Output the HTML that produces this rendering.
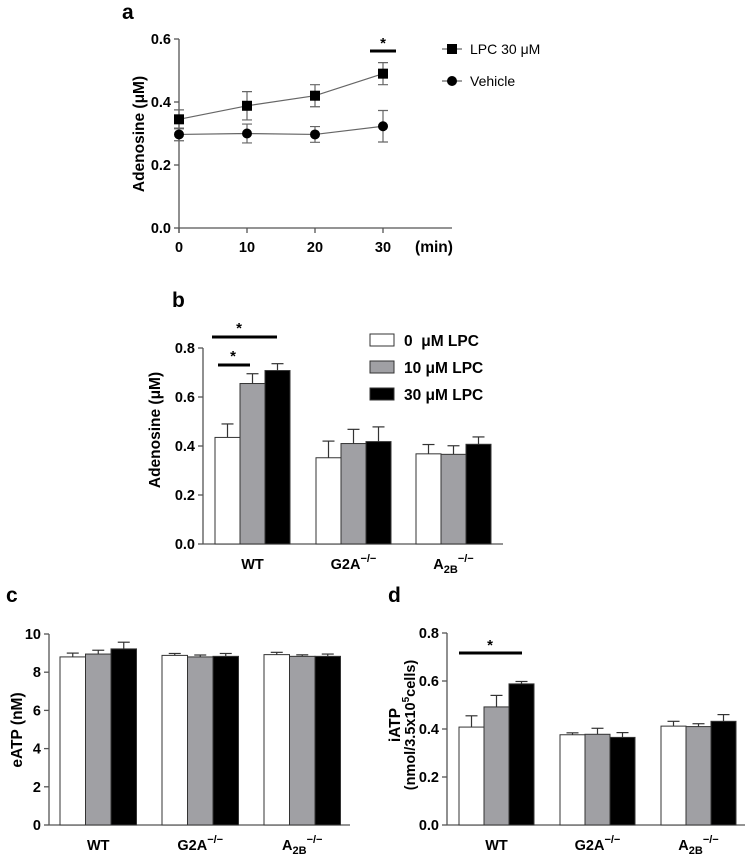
<!DOCTYPE html>
<html><head><meta charset="utf-8"><style>
body{margin:0;background:#fff;width:749px;height:854px;overflow:hidden}
svg{font-family:"Liberation Sans",Arial,sans-serif}
text{font-weight:bold;fill:#000}
</style></head><body>
<svg id="s" width="749" height="854" xmlns="http://www.w3.org/2000/svg"></svg>
<script>
// Panel a data
const aTimes=[0,10,20,30];
const aLpc=[0.345,0.388,0.42,0.49];
const aLpcErr=[0.03,0.045,0.035,0.035];
const aVeh=[0.297,0.300,0.297,0.323];
const aVehErr=[0.02,0.03,0.025,0.05];
const aYTicks=[0,0.2,0.4,0.6];
const aXTicks=[0,10,20,30];
// Panel b data
const groups=["WT","G2A","A2B"];
const bTicks=[0,0.2,0.4,0.6,0.8];
const b0=[0.435,0.352,0.368],b0e=[0.055,0.068,0.038];
const b10=[0.655,0.41,0.366],b10e=[0.04,0.058,0.035];
const b30=[0.708,0.418,0.407],b30e=[0.028,0.06,0.03];
// Panel c data
const cTicks=[0,2,4,6,8,10];
const c0=[8.8,8.88,8.92],c0e=[0.2,0.1,0.12];
const c10=[8.95,8.8,8.83],c10e=[0.2,0.1,0.08];
const c30=[9.22,8.83,8.83],c30e=[0.35,0.15,0.12];
// Panel d data
const dTicks=[0,0.2,0.4,0.6,0.8];
const d0=[0.408,0.376,0.412],d0e=[0.047,0.008,0.02];
const d10=[0.492,0.378,0.41],d10e=[0.048,0.025,0.012];
const d30=[0.588,0.365,0.432],d30e=[0.01,0.02,0.028];

const S=document.getElementById('s');const NS="http://www.w3.org/2000/svg";
function el(t,a,p){const e=document.createElementNS(NS,t);for(const k in a)e.setAttribute(k,a[k]);(p||S).appendChild(e);return e;}
function tx(x,y,s,size,anchor,p){const e=el('text',{x:x,y:y,'font-size':size,'text-anchor':anchor||'middle'},p);e.innerHTML=s;return e;}
const AX='#555';

// ---- Panel a
{
const g=el('g',{});


const x0=179,x30=383,yb=228,yt=39;
const X=v=>x0+(x30-x0)*v/30, Y=v=>yb-(yb-yt)*v/0.6;
tx(122,19,'a',21,'start',g);
el('line',{x1:x0,y1:yt,x2:x0,y2:yb+5,stroke:AX,'stroke-width':1.3},g);
el('line',{x1:x0,y1:yb,x2:452,y2:yb,stroke:AX,'stroke-width':1.3},g);
aYTicks.forEach(v=>{el('line',{x1:x0-5,y1:Y(v),x2:x0,y2:Y(v),stroke:AX,'stroke-width':1.3},g);tx(x0-8,Y(v)+5,v.toFixed(1),14.5,'end',g);});
aXTicks.forEach(v=>{el('line',{x1:X(v),y1:yb,x2:X(v),y2:yb+5,stroke:AX,'stroke-width':1.3},g);tx(X(v),yb+24,v,14.5,'middle',g);});
tx(434,yb+24,'(min)',15.5,'middle',g);
const yl=tx(0,0,'Adenosine (μM)',15.5,'middle',g);yl.setAttribute('transform','translate(144,134) rotate(-90)');

function series(vals,errs,sq,name){
  const pts=aTimes.map((t,i)=>X(t)+','+Y(vals[i])).join(' ');
  el('polyline',{points:pts,fill:'none',stroke:'#666','stroke-width':1.2},g);
  aTimes.forEach((t,i)=>{const x=X(t);
    el('path',{d:`M${x},${Y(vals[i]-errs[i])}V${Y(vals[i]+errs[i])}M${x-5},${Y(vals[i]+errs[i])}h10M${x-5},${Y(vals[i]-errs[i])}h10`,stroke:'#666','stroke-width':1.2},g);
    const m=sq?el('rect',{x:x-5,y:Y(vals[i])-5,width:10,height:10,fill:'#000'},g):el('circle',{cx:x,cy:Y(vals[i]),r:5,fill:'#000'},g);
    
    
  });
}
series(aLpc,aLpcErr,true,'lpc');series(aVeh,aVehErr,false,'vehicle');
el('line',{x1:370,y1:51,x2:396,y2:51,stroke:'#000','stroke-width':3},g);tx(383,48,'*',15,'middle',g);
el('line',{x1:442,y1:49,x2:462,y2:49,stroke:'#666','stroke-width':1.2},g);el('rect',{x:447,y:44,width:10,height:10},g);
tx(470,54,'LPC 30 μM',14,'start',g).style.fontWeight='normal';
el('line',{x1:442,y1:81,x2:462,y2:81,stroke:'#666','stroke-width':1.2},g);el('circle',{cx:452,cy:81,r:5},g);
tx(470,86,'Vehicle',14,'start',g).style.fontWeight='normal';
}

// ---- Bar panels
function barPanel(o){
  const g=el('g',{});
  
  
  const Y=v=>o.yb-(o.yb-o.yt)*v/o.max;
  el('line',{x1:o.ax,y1:Y(o.max),x2:o.ax,y2:o.yb,stroke:AX,'stroke-width':1.3},g);
  el('line',{x1:o.ax,y1:o.yb,x2:o.xe,y2:o.yb,stroke:AX,'stroke-width':1.3},g);
  o.ticks.forEach(v=>{el('line',{x1:o.ax-5,y1:Y(v),x2:o.ax,y2:Y(v),stroke:AX,'stroke-width':1.3},g);tx(o.ax-8,Y(v)+5,o.fmt(v),14.5,'end',g);});
  const fills=['#fff','#a0a0a4','#000'];
  o.series.forEach((ser,si)=>{
    ser[0].forEach((v,gi)=>{
      const x=o.gx[gi]+si*o.bw, e=ser[1][gi];
      el('line',{x1:x+o.bw/2,y1:Y(v),x2:x+o.bw/2,y2:Y(v+e),stroke:'#333','stroke-width':1.2},g);
      el('line',{x1:x+o.bw/2-6,y1:Y(v+e),x2:x+o.bw/2+6,y2:Y(v+e),stroke:'#333','stroke-width':1.2},g);
      const r=el('rect',{x:x,y:Y(v),width:o.bw,height:o.yb-Y(v),fill:fills[si],stroke:'#333','stroke-width':1},g);
      
      
    });
  });
  const ly=o.yb+25;
  groups.forEach((gn,gi)=>{const cx=o.gx[gi]+o.bw*1.5;
    let s=gn==='WT'?'WT':gn==='G2A'?'G2A<tspan font-size="11" dy="-7">−/−</tspan>':'A<tspan font-size="11" dy="4">2B</tspan><tspan font-size="11" dy="-11">−/−</tspan>';
    tx(cx,ly,s,14.5,'middle',g);});
  return {g,Y};
}
{
const p=barPanel({name:'panel-b-bar-chart',ax:203,xe:503,yb:544,yt:348,max:0.8,ticks:bTicks,fmt:v=>v.toFixed(1),gx:[215,316,416],bw:25,series:[[b0,b0e],[b10,b10e],[b30,b30e]]});
tx(172,307,'b',21,'start',p.g);
const yl=tx(0,0,'Adenosine (μM)',15.5,'middle',p.g);yl.setAttribute('transform','translate(160,430) rotate(-90)');
el('line',{x1:212,y1:337,x2:277,y2:337,stroke:'#000','stroke-width':3},p.g);tx(239,333,'*',15,'middle',p.g);
el('line',{x1:218,y1:365,x2:250,y2:365,stroke:'#000','stroke-width':3},p.g);tx(233,361,'*',15,'middle',p.g);
const lf=['#fff','#a0a0a4','#000'],lt=['0&#160; μM LPC','10 μM LPC','30 μM LPC'];
[340,367,394].forEach((y,i)=>{const r=el('rect',{x:370,y:y-6,width:24,height:12,fill:lf[i],stroke:'#333'},p.g);tx(404,y+6,lt[i],15.5,'start',p.g);});
}
{
const p=barPanel({name:'panel-c-bar-chart',ax:49,xe:350,yb:825,yt:634,max:10,ticks:cTicks,fmt:v=>v,gx:[60,162,264],bw:25.5,series:[[c0,c0e],[c10,c10e],[c30,c30e]]});
tx(6,602,'c',21,'start',p.g);
const yl=tx(0,0,'eATP (nM)',15.5,'middle',p.g);yl.setAttribute('transform','translate(22,730) rotate(-90)');
}
{
const p=barPanel({name:'panel-d-bar-chart',ax:447,xe:745,yb:825,yt:633,max:0.8,ticks:dTicks,fmt:v=>v.toFixed(1),gx:[459,560,661],bw:25,series:[[d0,d0e],[d10,d10e],[d30,d30e]]});
tx(388,602,'d',21,'start',p.g);
const y1=tx(0,0,'iATP',15.5,'middle',p.g);y1.setAttribute('transform','translate(400,725) rotate(-90)');
const y2=tx(0,0,'(nmol/3.5x10<tspan font-size="10" dy="-6">5</tspan><tspan dy="6">cells)</tspan>',14.5,'middle',p.g);y2.setAttribute('transform','translate(415,725) rotate(-90)');
el('line',{x1:459,y1:653,x2:522,y2:653,stroke:'#000','stroke-width':3},p.g);tx(490,650,'*',15,'middle',p.g);
}
</script>
</body></html>
